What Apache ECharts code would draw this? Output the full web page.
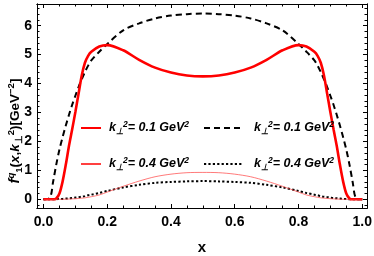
<!DOCTYPE html>
<html><head><meta charset="utf-8">
<script src="https://cdn.jsdelivr.net/npm/echarts@6/dist/echarts.min.js"></script>
<style>html,body{margin:0;padding:0;background:#fff}#c{width:374px;height:256px}</style>
</head><body><div id="c"></div>
<script>
const xs = [0, 0.02, 0.03, 0.04, 0.05, 0.06, 0.07, 0.08, 0.09, 0.1, 0.11, 0.12, 0.13, 0.14, 0.15, 0.175, 0.2, 0.25, 0.3, 0.35, 0.4, 0.45, 0.5,
            0.55, 0.6, 0.65, 0.7, 0.75, 0.8, 0.825, 0.85, 0.86, 0.87, 0.88, 0.89, 0.9, 0.91, 0.92, 0.93, 0.94, 0.95, 0.96, 0.97, 0.98, 1.0];
// k⊥² = 0.1 GeV², solid red
const redThick = [0, 0, 0, 0.03, 0.2, 0.62, 1.2, 1.85, 2.42, 3.02, 3.65, 4.28, 4.72, 4.96, 5.1, 5.28, 5.33, 5.15, 4.82, 4.55, 4.38, 4.28, 4.25,
                  4.28, 4.38, 4.55, 4.82, 5.15, 5.33, 5.28, 5.1, 4.96, 4.72, 4.28, 3.65, 3.02, 2.42, 1.85, 1.2, 0.62, 0.2, 0.03, 0, 0, 0];
// k⊥² = 0.1 GeV², dashed black
const blackDash = [0, 0.05, 0.6, 1.2, 1.72, 2.15, 2.55, 2.92, 3.27, 3.58, 3.88, 4.15, 4.4, 4.62, 4.8, 5.1, 5.37, 5.84, 6.08, 6.25, 6.35, 6.4, 6.42,
                   6.4, 6.35, 6.25, 6.08, 5.84, 5.37, 5.1, 4.8, 4.62, 4.4, 4.15, 3.88, 3.58, 3.27, 2.92, 2.55, 2.15, 1.72, 1.2, 0.6, 0.05, 0];
// k⊥² = 0.4 GeV², thin red
const redThin = [0, 0, 0, 0, 0, 0, 0.005, 0.01, 0.015, 0.02, 0.03, 0.04, 0.05, 0.07, 0.09, 0.15, 0.25, 0.45, 0.63, 0.78, 0.87, 0.92, 0.93,
                 0.92, 0.87, 0.78, 0.63, 0.45, 0.25, 0.15, 0.09, 0.07, 0.05, 0.04, 0.03, 0.02, 0.015, 0.01, 0.005, 0, 0, 0, 0, 0, 0];
// k⊥² = 0.4 GeV², dotted black
const blackDot = [0, 0, 0, 0.005, 0.01, 0.015, 0.025, 0.035, 0.045, 0.06, 0.075, 0.09, 0.11, 0.14, 0.16, 0.22, 0.29, 0.41, 0.5, 0.57, 0.6, 0.62, 0.63,
                  0.62, 0.6, 0.57, 0.5, 0.41, 0.29, 0.22, 0.16, 0.14, 0.11, 0.09, 0.075, 0.06, 0.045, 0.035, 0.025, 0.015, 0.01, 0.005, 0, 0, 0];

const xTickLabels = [0, 0.2, 0.4, 0.6, 0.8, 1.0];
const xMinorTicks = [0.05, 0.1, 0.15, 0.25, 0.3, 0.35, 0.45, 0.5, 0.55, 0.65, 0.7, 0.75, 0.85, 0.9, 0.95];
const yTickLabels = [0, 1, 2, 3, 4, 5, 6];
const yMinorTicks = [-0.2, 0.2, 0.4, 0.6, 0.8, 1.2, 1.4, 1.6, 1.8, 2.2, 2.4, 2.6, 2.8, 3.2, 3.4, 3.6, 3.8, 4.2, 4.4, 4.6, 4.8, 5.2, 5.4, 5.6, 5.8, 6.2, 6.4, 6.6];

const FONT = '"Liberation Sans", Arial, sans-serif';
const XMIN = -0.0204, XMAX = 1.015, YMIN = -0.3, YMAX = 6.75;

function pairs(ys) { return xs.map((x, i) => [x, ys[i]]); }

const legendRich = {
  k: { fontFamily: FONT, fontWeight: 'bold', fontStyle: 'italic', fontSize: 12.5, color: '#000', lineHeight: 16, verticalAlign: 'middle' },
  sub: { fontFamily: FONT, fontWeight: 'bold', fontStyle: 'italic', fontSize: 8.5, color: '#000', lineHeight: 8, verticalAlign: 'bottom' },
  sup: { fontFamily: FONT, fontWeight: 'bold', fontStyle: 'italic', fontSize: 8.5, color: '#000', lineHeight: 8, verticalAlign: 'top' }
};
function legendLabel(name) {
  const v = (name === 's1' || name === 's2') ? '0.1' : '0.4';
  return '{k|k}{sub|⊥}{sup|2}{k|= ' + v + ' GeV}{sup|2}';
}

function xAxisDef(pos, vals, len, labels) {
  return {
    type: 'value', position: pos, min: XMIN, max: XMAX,
    axisLine: { show: true, onZero: false, lineStyle: { color: '#000', width: 1 } },
    axisTick: { show: true, inside: true, length: len, customValues: vals, lineStyle: { color: '#000', width: 1 } },
    axisLabel: labels ? { show: true, customValues: vals, formatter: v => Number(v).toFixed(1), fontFamily: FONT, fontWeight: 'bold', fontSize: 14, color: '#000', margin: 7 } : { show: false },
    splitLine: { show: false }
  };
}
function yAxisDef(pos, vals, len, labels) {
  return {
    type: 'value', position: pos, min: YMIN, max: YMAX,
    axisLine: { show: true, onZero: false, lineStyle: { color: '#000', width: 1 } },
    axisTick: { show: true, inside: true, length: len, customValues: vals, lineStyle: { color: '#000', width: 1 } },
    axisLabel: labels ? { show: true, customValues: vals, formatter: v => String(Math.round(v)), fontFamily: FONT, fontWeight: 'bold', fontSize: 14, color: '#000', margin: 5 } : { show: false },
    splitLine: { show: false }
  };
}

const yTitleRich = {
  n: { fontFamily: FONT, fontWeight: 'bold', fontSize: 13.5, color: '#000', lineHeight: 18 },
  ni: { fontFamily: FONT, fontWeight: 'bold', fontStyle: 'italic', fontSize: 13.5, color: '#000', lineHeight: 18 },
  fi: { fontFamily: FONT, fontWeight: 'bold', fontStyle: 'italic', fontSize: 14.5, color: '#000', lineHeight: 18 },
  supi: { fontFamily: FONT, fontWeight: 'bold', fontStyle: 'italic', fontSize: 9.5, color: '#000', lineHeight: 10, verticalAlign: 'top' },
  sup: { fontFamily: FONT, fontWeight: 'bold', fontSize: 9.5, color: '#000', lineHeight: 10, verticalAlign: 'top' },
  sub: { fontFamily: FONT, fontWeight: 'bold', fontSize: 9.5, color: '#000', lineHeight: 10, verticalAlign: 'bottom' }
};
const yTitle = '{fi|f}{supi|q}{sub|1}{n|(}{ni|x}{n|,}{ni|k}{sub|⊥}{sup|2}{n|)[GeV}{sup|−2}{n|]}';

const xAxis0 = xAxisDef('bottom', xTickLabels, 4, true);
xAxis0.name = 'x';
xAxis0.nameLocation = 'middle';
xAxis0.nameGap = 32;
xAxis0.nameTextStyle = { fontFamily: FONT, fontWeight: 'bold', fontSize: 15, color: '#000' };

const legendCommon = { orient: 'vertical', top: 115, itemHeight: 14, itemGap: 20, formatter: legendLabel,
  itemStyle: { opacity: 0, borderWidth: 0 } };

const chart = echarts.init(document.getElementById('c'), null, { renderer: 'canvas' });
chart.setOption({
  animation: false,
  backgroundColor: '#fff',
  grid: { left: 37, top: 4, right: 7, bottom: 48, containLabel: false, outerBoundsMode: 'none' },
  xAxis: [xAxis0, xAxisDef('bottom', xMinorTicks, 2.5, false), xAxisDef('top', xTickLabels, 4, false), xAxisDef('top', xMinorTicks, 2.5, false)],
  yAxis: [yAxisDef('left', yTickLabels, 4, true), yAxisDef('left', yMinorTicks, 2.5, false), yAxisDef('right', yTickLabels, 4, false), yAxisDef('right', yMinorTicks, 2.5, false)],
  graphic: [{
    type: 'text', x: 15, y: 131, rotation: Math.PI / 2,
    style: { text: yTitle, rich: yTitleRich, align: 'center', verticalAlign: 'middle' }
  }],
  legend: [
    Object.assign({ data: ['s1', 's3'], left: 75, itemWidth: 20, textStyle: { padding: [0, 0, 0, 3], rich: legendRich } }, legendCommon),
    Object.assign({ data: ['s2', 's4'], left: 198, itemWidth: 38, textStyle: { padding: [0, 0, 0, 7], rich: legendRich } }, legendCommon)
  ],
  series: [
    { name: 's2', type: 'line', data: pairs(blackDash), symbol: 'none', smooth: 0.3, z: 2,
      lineStyle: { color: '#000', width: 2, type: [6, 4] }, itemStyle: { color: '#000' } },
    { name: 's1', type: 'line', data: pairs(redThick), symbol: 'none', smooth: 0.3, z: 3,
      lineStyle: { color: '#ff0000', width: 2.6 }, itemStyle: { color: '#ff0000' } },
    { name: 's3', type: 'line', data: pairs(redThin), symbol: 'none', smooth: 0.3, z: 3,
      lineStyle: { color: '#ff4040', width: 0.7 }, itemStyle: { color: '#ff4040' } },
    { name: 's4', type: 'line', data: pairs(blackDot), symbol: 'none', smooth: 0.3, z: 2,
      lineStyle: { color: '#000', width: 2, type: [2.2, 2.2] }, itemStyle: { color: '#000' } }
  ]
});
</script>
</body></html>
